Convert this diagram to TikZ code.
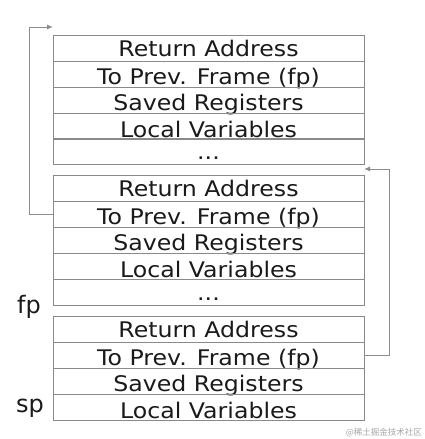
\documentclass[tikz,border=0pt]{standalone}
\usepackage{fontspec}
\setmainfont{DejaVu Sans}
\newfontfamily\widefont[FakeStretch=1.1]{DejaVu Sans}
\newfontfamily\cjkfont{Noto Sans CJK SC}
\usetikzlibrary{arrows.meta}
\definecolor{rowline}{HTML}{8A8A8A}
\definecolor{arrline}{HTML}{8C8C8C}
\definecolor{txt}{HTML}{1A1A1A}
\tikzset{
  row/.style={draw=rowline, line width=1pt, rectangle, inner sep=0pt, outer sep=0pt,
    minimum width=311pt, minimum height=26pt, anchor=north west,
    text height=#1pt, text depth={26-#1}, text=txt,
    font=\widefont\fontsize{21.5}{21.5}\selectfont},
  row/.default=22.5,
  ptr/.style={draw=arrline, line width=1pt, -{Latex[length=6pt,width=5pt]}},
  reg/.style={anchor=base west, inner sep=0pt, text=txt, font=\fontsize{24}{24}\selectfont},
}
\begin{document}
\begin{tikzpicture}[x=1pt,y=-1pt]
\useasboundingbox (0,0) rectangle (425,439);
% frame 1
\node[row=21.5] (aRA) at (53,35) {Return Address};
\node[row=23] (aFP) at (53,61) {To Prev. Frame (fp)};
\node[row=23] (aSR) at (53,87) {Saved Registers};
\node[row=24.5] (aLV) at (53,113) {Local Variables};
\node[row=21] (aDT) at (53,138) {...};
% frame 2
\node[row=21.5] (bRA) at (53,175) {Return Address};
\node[row=23] (bFP) at (53,201) {To Prev. Frame (fp)};
\node[row=23] (bSR) at (53,227) {Saved Registers};
\node[row=24.5] (bLV) at (53,253) {Local Variables};
\node[row=21, minimum height=25pt] (bDT) at (53,279) {...};
% frame 3
\node[row=21.5] (cRA) at (53,316) {Return Address};
\node[row=23] (cFP) at (53,342) {To Prev. Frame (fp)};
\node[row=23] (cSR) at (53,368) {Saved Registers};
\node[row=24, minimum height=25pt] (cLV) at (53,394) {Local Variables};
% labels
\node[reg] (fpl) at (17,313) {fp};
\node[reg] (spl) at (16,412) {sp};
% pointers
\coordinate (t1) at (53,27);
\coordinate (t2) at (364,169);
\draw[ptr] (bFP.west) -- ++(-24,0) |- (t1);
\draw[ptr] (cFP.east) -- ++(25,0) |- (t2);
% watermark
\node[anchor=base east, inner sep=0pt, text=black!35, font=\cjkfont\fontsize{8.5}{8.5}\selectfont] (wm) at (422,435) {@稀土掘金技术社区};
\end{tikzpicture}
\end{document}
